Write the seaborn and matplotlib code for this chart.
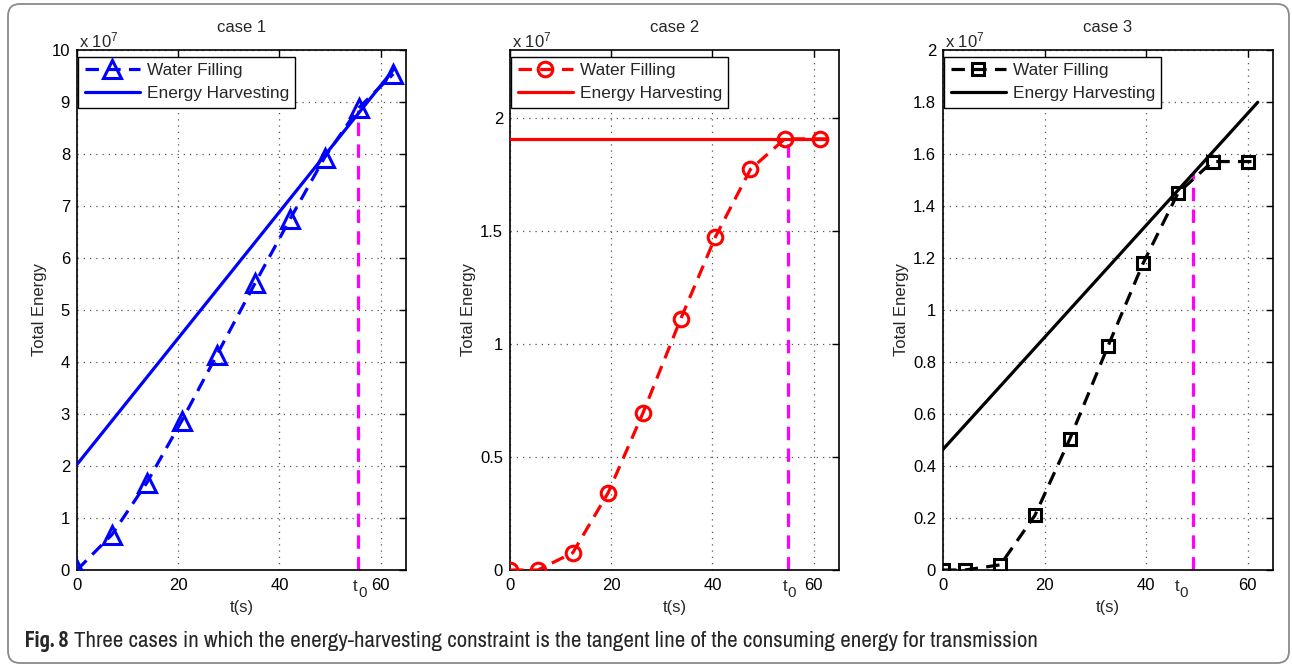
import numpy as np
import pandas as pd
import matplotlib
matplotlib.use("Agg")
import matplotlib.pyplot as plt
import seaborn as sns
from matplotlib.lines import Line2D
from matplotlib.patches import FancyBboxPatch
from matplotlib import font_manager
from matplotlib.font_manager import FontProperties
import matplotlib.transforms as mtransforms

# ---------------- data (energy in units of 1e7) ----------------
case_titles = ["case 1", "case 2", "case 3"]

wf_t1 = [0, 6.9, 13.8, 20.7, 27.6, 35.2, 42.1, 48.9, 55.7, 62.5]
wf_e1 = [0, 0.68, 1.68, 2.87, 4.13, 5.52, 6.75, 7.93, 8.89, 9.54]
eh_t1 = [0, 62.5]
eh_e1 = [2.03, 9.62]

wf_t2 = [0, 5.5, 12.4, 19.4, 26.3, 33.7, 40.6, 47.5, 54.3, 61.3, 62.5]
wf_e2 = [0, 0, 0.076, 0.342, 0.696, 1.109, 1.474, 1.772, 1.907, 1.907, 1.907]
eh_t2 = [0, 62.5]
eh_e2 = [1.907, 1.907]

wf_t3 = [0, 4.3, 11.3, 18.1, 25.0, 32.5, 39.4, 46.3, 53.1, 60.0, 62.1]
wf_e3 = [0, 0, 0.02, 0.21, 0.505, 0.861, 1.179, 1.45, 1.571, 1.571, 1.571]
eh_t3 = [0, 62]
eh_e3 = [0.464, 1.799]

t0_x = [55.6, 54.9, 49.3]
t0_top = [8.85, 1.907, 1.527]
t0_label_x = [55.6, 54.9, 46.7]

x_ticks = [0, 20, 40, 60]
y_ticks = [list(range(0, 11)),
           [0, 0.5, 1, 1.5, 2],
           [0, 0.2, 0.4, 0.6, 0.8, 1, 1.2, 1.4, 1.6, 1.8, 2]]
y_lims = [(0, 10), (0, 2.3), (0, 2)]
legend_labels = ["Water Filling", "Energy Harvesting"]
caption_bold = "Fig. 8"
caption_text = ("Three cases in which the energy-harvesting constraint is the "
                "tangent line of the consuming energy for transmission")

# ---------------- styling ----------------
sns.set_theme(style="white")
plt.rcParams["font.family"] = ["Liberation Sans", "DejaVu Sans"]
plt.rcParams["mathtext.fontset"] = "custom"
plt.rcParams["mathtext.rm"] = "Liberation Sans"
plt.rcParams["mathtext.it"] = "Liberation Sans"

colors = ["#0000ff", "#ff0000", "#000000"]
markers = ["^", "o", "s"]
msizes = [13, 10.5, 9]
magenta = "#ff00ff"
FS = 12
LFS = 12.4
LW = 2.3
dash = (0, (4.2, 2.6))

W, H = 1292, 668
fig = plt.figure(figsize=(W / 100, H / 100), dpi=100)
fig.patch.set_facecolor("white")

ax_px = [(77, 406), (510, 839), (943, 1273)]
top_px, bot_px = 50, 570

wf_t = [wf_t1, wf_t2, wf_t3]
wf_e = [wf_e1, wf_e2, wf_e3]
eh_t = [eh_t1, eh_t2, eh_t3]
eh_e = [eh_e1, eh_e2, eh_e3]
mark_every = [None, slice(0, 10), slice(0, 10)]

for i in range(3):
    l, r = ax_px[i]
    ax = fig.add_axes([l / W, (H - bot_px) / H, (r - l) / W, (bot_px - top_px) / H])
    c = colors[i]

    df_wf = pd.DataFrame({"t": wf_t[i], "E": wf_e[i]})
    df_eh = pd.DataFrame({"t": eh_t[i], "E": eh_e[i]})

    sns.lineplot(data=df_wf, x="t", y="E", ax=ax, color=c, lw=LW,
                 marker=markers[i], markersize=msizes[i], markerfacecolor="none",
                 markeredgecolor=c, markeredgewidth=2.2, markevery=mark_every[i],
                 estimator=None, sort=False, zorder=3)
    ax.lines[-1].set_linestyle(dash)
    sns.lineplot(data=df_eh, x="t", y="E", ax=ax, color=c, lw=LW,
                 estimator=None, sort=False, zorder=3)
    ax.plot([t0_x[i], t0_x[i]], [0, t0_top[i]], color=magenta, lw=LW,
            ls=dash, zorder=2)

    ax.set_xlim(0, 65)
    ax.set_ylim(*y_lims[i])
    ax.set_xticks(x_ticks)
    ax.set_xticklabels([str(v) for v in x_ticks])
    ax.set_yticks(y_ticks[i])
    ax.set_yticklabels(["%g" % v for v in y_ticks[i]])
    ax.tick_params(direction="in", top=True, right=True, length=5, width=1,
                   labelsize=FS, pad=5, colors="black")
    ax.tick_params(axis="x", pad=6)
    ax.grid(True, ls=(0, (1, 4)), color="#555555", lw=0.9)
    for s in ax.spines.values():
        s.set_visible(True)
        s.set_color("black")
        s.set_linewidth(1.2)

    ax.set_title(case_titles[i], fontsize=FS, pad=13)
    ax.set_xlabel("t(s)", fontsize=FS, labelpad=5)
    ax.set_ylabel("Total Energy", fontsize=FS, labelpad=3)

    ax.text(0.005, 1.0, r"x 10$^{7}$", transform=ax.transAxes, fontsize=FS,
            ha="left", va="bottom")
    tr_t = mtransforms.offset_copy(ax.get_xaxis_transform(), fig=fig, x=-3, y=-9, units="dots")
    tr_0 = mtransforms.offset_copy(ax.get_xaxis_transform(), fig=fig, x=-0.5, y=-16, units="dots")
    ax.text(t0_label_x[i], 0, "t", transform=tr_t, fontsize=FS, ha="center", va="top")
    ax.text(t0_label_x[i], 0, "0", transform=tr_0, fontsize=11, ha="left", va="top")

    handles = [
        Line2D([], [], color=c, lw=LW, ls=dash, marker=markers[i], markersize=msizes[i],
               markerfacecolor="none", markeredgecolor=c, markeredgewidth=2.2),
        Line2D([], [], color=c, lw=LW),
    ]
    leg = ax.legend(handles, legend_labels, loc="upper left", bbox_to_anchor=(0.003, 0.987),
                    borderaxespad=0, fontsize=LFS, frameon=True, fancybox=False,
                    framealpha=1, edgecolor="black", handlelength=3.2,
                    handletextpad=0.4, borderpad=0.38, numpoints=1, labelspacing=0.45)
    leg.get_frame().set_linewidth(1.0)

# ---------------- outer frame ----------------
frame = FancyBboxPatch((8, 5), 1281, 659, boxstyle="round,pad=0,rounding_size=12",
                       transform=None, facecolor="none", edgecolor="#8a8a8a", lw=1.3)
fig.patches.append(frame)

# ---------------- caption ----------------
def pick_condensed(bold):
    fl = font_manager.fontManager.ttflist
    def is_cond(f):
        s = str(f.stretch).lower()
        return ("narrow" in f.name.lower() or "condensed" in s or "condensed" in f.fname.lower()
                or (isinstance(f.stretch, int) and f.stretch < 500))
    def wt(f):
        w = f.weight
        if isinstance(w, str):
            w = 700 if "bold" in w.lower() else 400
        return w
    cands = [f for f in fl if is_cond(f) and f.style == "normal"]
    if bold:
        cands = [f for f in cands if 600 <= wt(f) <= 750]
    else:
        cands = [f for f in cands if 350 <= wt(f) <= 450]
    cands.sort(key=lambda f: (0 if "narrow" in f.name.lower() else 1, f.fname))
    if cands:
        return FontProperties(fname=cands[0].fname)
    return FontProperties(family="Liberation Sans", weight="bold" if bold else "normal")

fp_reg = pick_condensed(False)
fp_bold = pick_condensed(True)
cap_y = (H - 647) / H
tt = fig.text(83 / W, cap_y, caption_text, fontproperties=fp_reg, va="baseline", ha="left")
tt.set_fontsize(13)
fig.canvas.draw()
r = fig.canvas.get_renderer()
wt_ = tt.get_window_extent(r).width
cap_fs = min(13 * 972 / wt_, 16.5)
tt.set_fontsize(cap_fs)
tb = fig.text(25 / W, cap_y, caption_bold, fontproperties=fp_bold, va="baseline", ha="left")
tb.set_fontsize(cap_fs)
fig.canvas.draw()
bb = tb.get_window_extent(r)
tt.set_x((bb.x1 + 5) / W)

fig.savefig("out.png", dpi=100)
